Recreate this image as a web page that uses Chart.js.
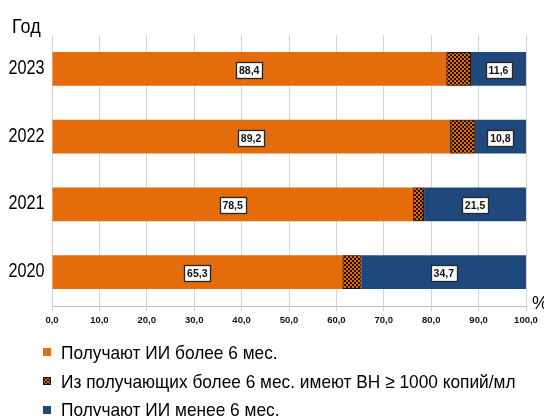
<!DOCTYPE html>
<html>
<head>
<meta charset="utf-8">
<script src="https://cdn.jsdelivr.net/npm/chart.js@4/dist/chart.umd.min.js"></script>
<style>
  html, body { margin: 0; padding: 0; background: #fff; }
  #wrap { position: relative; width: 544px; height: 416px; overflow: hidden; }
  #c { position: absolute; left: 0; top: 0; }
  .note { position: absolute; font-family: "Liberation Sans", Arial, sans-serif; color: #000; line-height: 1; white-space: nowrap; transform-origin: 0 0; }
  #legend { position: absolute; left: 0; top: 0; font-family: "Liberation Sans", Arial, sans-serif; font-size: 19px; color: #000; }
  .item { position: absolute; left: 0; white-space: nowrap; line-height: 1; }
  .sw { position: absolute; width: 8px; height: 8px; }
  .txt { position: absolute; transform: scaleX(0.91); transform-origin: 0 0; }
</style>
</head>
<body>
<div id="wrap">
  <canvas id="c" width="544" height="416"></canvas>
  <div class="note" style="left:12px;top:16px;font-size:20px;transform:scaleX(0.9);">Год</div>
  <div class="note" style="left:532px;top:294px;font-size:18px;">%</div>
  <div id="legend"></div>
</div>
<script>
// Years (top to bottom)
const years = ['2023', '2022', '2021', '2020'];
// Share on ART longer than 6 months, %
const moreThan6 = [88.4, 89.2, 78.5, 65.3];
// Of those on ART > 6 months: viral load >= 1000 copies/ml, %
const highVL = [5.2, 5.2, 2.3, 4.0];
// Share on ART less than 6 months, %
const lessThan6 = [11.6, 10.8, 21.5, 34.7];
// Series names
const seriesNames = [
  'Получают ИИ более 6 мес.',
  'Из получающих более 6 мес. имеют ВН \u2265 1000 копий/мл',
  'Получают ИИ менее 6 мес.'
];

const ORANGE = '#E46C0A';
const BLUE = '#1F497D';

function checkerPattern() {
  const c = document.createElement('canvas');
  c.width = 4; c.height = 4;
  const g = c.getContext('2d');
  g.fillStyle = ORANGE; g.fillRect(0, 0, 4, 4);
  g.fillStyle = '#1b1106';
  g.fillRect(0, 0, 2, 2); g.fillRect(2, 2, 2, 2);
  return g.createPattern(c, 'repeat');
}
const checker = checkerPattern();

const fmt = v => v.toFixed(1).replace('.', ',');

// White boxed value labels on the bars
const boxLabels = {
  id: 'boxLabels',
  afterDatasetsDraw(chart) {
    const { ctx, scales: { x } } = chart;
    const meta = chart.getDatasetMeta(0);
    ctx.save();
    ctx.font = 'bold 10.5px "Liberation Sans", Arial, sans-serif';
    ctx.textAlign = 'center';
    ctx.textBaseline = 'middle';
    const box = (txt, cx, cy) => {
      const w = Math.round(ctx.measureText(txt).width + 6);
      const h = 16;
      const lx = Math.round(cx - w / 2) + 0.5, ty = Math.round(cy - h / 2) + 0.5;
      ctx.fillStyle = '#fff';
      ctx.fillRect(lx, ty, w, h);
      ctx.strokeStyle = '#262626';
      ctx.lineWidth = 1.3;
      ctx.strokeRect(lx, ty, w, h);
      ctx.fillStyle = '#111';
      ctx.fillText(txt, cx, cy + 1);
    };
    years.forEach((yr, i) => {
      const cy = meta.data[i].y + 1;
      const xo = x.getPixelForValue((moreThan6[i] - highVL[i]) / 2);
      const xb = x.getPixelForValue(moreThan6[i] + lessThan6[i] / 2);
      box(fmt(moreThan6[i]), xo, cy);
      box(fmt(lessThan6[i]), xb, cy);
    });
    ctx.restore();
  }
};

// Condensed year labels placed on the category scale
const yearLabels = {
  id: 'yearLabels',
  afterDraw(chart) {
    const { ctx, scales: { y } } = chart;
    ctx.save();
    ctx.font = '20px "Liberation Sans", Arial, sans-serif';
    ctx.fillStyle = '#000';
    ctx.textAlign = 'right';
    ctx.textBaseline = 'alphabetic';
    chart.data.labels.forEach((lab, i) => {
      ctx.save();
      ctx.translate(y.right - 7.5, y.getPixelForTick(i) + 5);
      ctx.scale(0.81, 1);
      ctx.fillText(lab, 0, 0);
      ctx.restore();
    });
    ctx.restore();
  }
};

const chart = new Chart(document.getElementById('c'), {
  type: 'bar',
  data: {
    labels: years,
    datasets: [
      {
        label: seriesNames[0],
        data: moreThan6.map(v => [0, v]),
        backgroundColor: ORANGE,
        grouped: false,
        order: 2
      },
      {
        label: seriesNames[1],
        data: moreThan6.map((v, i) => [v - highVL[i], v]),
        backgroundColor: checker,
        borderColor: '#1b1106',
        borderWidth: 1,
        borderSkipped: false,
        grouped: false,
        order: 0
      },
      {
        label: seriesNames[2],
        data: moreThan6.map((v, i) => [v, v + lessThan6[i]]),
        backgroundColor: BLUE,
        grouped: false,
        order: 1
      }
    ]
  },
  options: {
    indexAxis: 'y',
    responsive: false,
    animation: false,
    devicePixelRatio: 1,
    barPercentage: 1,
    categoryPercentage: 0.5,
    layout: { padding: { top: 35, right: 18, bottom: 86, left: 0 } },
    plugins: { legend: { display: false }, tooltip: { enabled: false } },
    scales: {
      x: {
        min: 0,
        max: 100,
        ticks: {
          stepSize: 10,
          callback: v => fmt(v),
          font: { family: '"Liberation Sans", Arial, sans-serif', size: 9.5, weight: 'bold' },
          color: '#111',
          padding: 4,
          maxRotation: 0
        },
        grid: { color: '#d4d4d4', lineWidth: 1, tickLength: 5 },
        border: { color: '#bfbfbf' },
        afterFit(s) { s.height = 24; }
      },
      y: {
        grid: { display: false },
        border: { display: false },
        ticks: { display: false },
        afterFit(s) { s.width = 52; }
      }
    }
  },
  plugins: [boxLabels, yearLabels]
});

// Legend built from the chart's datasets
const legend = document.getElementById('legend');
const swatches = [
  `background:${ORANGE};`,
  `background-color:${ORANGE};background-image:repeating-conic-gradient(#1b1106 0 25%, ${ORANGE} 0 50%);background-size:4px 4px;outline:1px solid #1b1106;outline-offset:-1px;`,
  `background:${BLUE};`
];
chart.data.datasets.forEach((ds, i) => {
  const top = 343 + i * 28.5;
  const item = document.createElement('div');
  item.className = 'item';
  item.style.top = top + 'px';
  const sw = document.createElement('span');
  sw.className = 'sw';
  sw.style.cssText = `left:43px;top:${i === 2 ? 6 : 5}px;` + swatches[i];
  const tx = document.createElement('span');
  tx.className = 'txt';
  tx.style.left = '61px';
  tx.style.top = '0px';
  tx.textContent = ds.label;
  item.appendChild(sw);
  item.appendChild(tx);
  legend.appendChild(item);
});
</script>
</body>
</html>
